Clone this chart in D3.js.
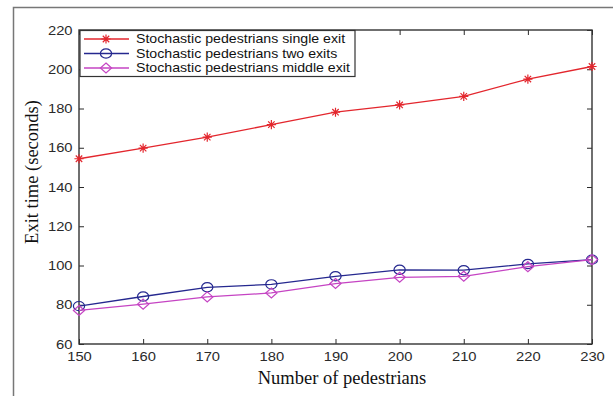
<!DOCTYPE html>
<html><head><meta charset="utf-8">
<script src="https://cdn.jsdelivr.net/npm/d3@7"></script>
<style>body{margin:0;background:#fff}svg{display:block}</style>
</head><body>
<svg id="c" width="613" height="396"></svg>
<script>
const pedestrians = [150,160,170,180,190,200,210,220,230];
const singleExit = [154.4,159.8,165.4,171.8,178.1,181.8,186.2,195.0,201.4];
const twoExits   = [79.3,84.2,88.9,90.4,94.5,97.8,97.6,100.8,103.0];
const middleExit = [77.1,80.3,84.0,86.0,90.8,94.0,94.5,99.4,103.0];
const xTicks = [150,160,170,180,190,200,210,220,230];
const yTicks = [60,80,100,120,140,160,180,200,220];
const seriesNames = ["Stochastic pedestrians single exit","Stochastic pedestrians two exits","Stochastic pedestrians middle exit"];

const svg = d3.select("#c");
const L=79,R=592,T=30,B=344;
const x = d3.scaleLinear().domain([150,230]).range([L,R]);
const y = d3.scaleLinear().domain([60,220]).range([B,T]);

// outer frame
svg.append("path").attr("d","M13.5,396 V7.5 H613").attr("fill","none").attr("stroke","#777").attr("stroke-width",1.5);

const tickCol="#2a2a2a";
const font="Liberation Sans, Arial, sans-serif";
const SX=1.18;
// axes
const gx = svg.append("g").attr("transform",`translate(0,${B})`).call(d3.axisBottom(x).tickValues(xTicks).tickSizeInner(-5).tickSizeOuter(0).tickPadding(8));
const gxt = svg.append("g").attr("transform",`translate(0,${T})`).call(d3.axisTop(x).tickValues(xTicks).tickSizeInner(-5).tickSizeOuter(0).tickFormat(""));
const gy = svg.append("g").attr("transform",`translate(${L},0)`).call(d3.axisLeft(y).tickValues(yTicks).tickSizeInner(-5).tickSizeOuter(0).tickPadding(5.5));
const gyr = svg.append("g").attr("transform",`translate(${R},0)`).call(d3.axisRight(y).tickValues(yTicks).tickSizeInner(-5).tickSizeOuter(0).tickFormat(""));
[gx,gxt,gy,gyr].forEach(g=>{
  g.select(".domain").remove();
  g.selectAll("line").attr("stroke",tickCol).attr("stroke-width",1);
  g.selectAll("text").attr("fill",tickCol).attr("transform",`scale(${SX},1)`).style("font-family",font).style("font-size","12.5px");
});
svg.append("rect").attr("x",L).attr("y",T).attr("width",R-L).attr("height",B-T).attr("fill","none").attr("stroke","#333").attr("stroke-width",1.4);

const colors=["#e3262d","#25288f","#c544c3"];
const datasets=[singleExit,twoExits,middleExit];
const line = d3.line().x((d,i)=>x(pedestrians[i])).y(d=>y(d));

function marker(g,type,cx,cy,col){
  if(type===0){
    const s=4.6;
    g.append("path").attr("d",`M${cx-s},${cy}H${cx+s}M${cx},${cy-s}V${cy+s}M${cx-s*0.7},${cy-s*0.7}L${cx+s*0.7},${cy+s*0.7}M${cx-s*0.7},${cy+s*0.7}L${cx+s*0.7},${cy-s*0.7}`)
     .attr("stroke",col).attr("stroke-width",1.2).attr("fill","none");
  } else if(type===1){
    g.append("ellipse").attr("cx",cx).attr("cy",cy).attr("rx",5.6).attr("ry",4.6).attr("fill","none").attr("stroke",col).attr("stroke-width",1.2);
  } else {
    const sx=5.6, sy=5;
    g.append("path").attr("d",`M${cx},${cy-sy}L${cx+sx},${cy}L${cx},${cy+sy}L${cx-sx},${cy}Z`).attr("fill","none").attr("stroke",col).attr("stroke-width",1.2);
  }
}

datasets.forEach((ds,k)=>{
  const g=svg.append("g");
  g.append("path").datum(ds).attr("d",line).attr("fill","none").attr("stroke",colors[k]).attr("stroke-width",1.3);
  ds.forEach((v,i)=>marker(g,k,x(pedestrians[i]),y(v),colors[k]));
});

// legend
const lg=svg.append("g");
lg.append("rect").attr("x",80).attr("y",30.5).attr("width",275).attr("height",46).attr("fill","#fff").attr("stroke","#333").attr("stroke-width",1.2);
seriesNames.forEach((n,k)=>{
  const yy=39+k*14.5;
  lg.append("line").attr("x1",84).attr("x2",129).attr("y1",yy).attr("y2",yy).attr("stroke",colors[k]).attr("stroke-width",1.3);
  marker(lg,k,106,yy,colors[k]);
  lg.append("text").attr("transform",`translate(136,${yy+4.3}) scale(${SX},1)`).text(n).attr("fill","#111").style("font-family",font).style("font-size","12px");
});

// titles
svg.append("text").attr("x",342).attr("y",384).attr("text-anchor","middle").text("Number of pedestrians")
  .style("font-family","Liberation Serif, Times New Roman, serif").style("font-size","18.5px").attr("fill","#111");
svg.append("text").attr("transform","translate(38,172) rotate(-90)").attr("text-anchor","middle").text("Exit time (seconds)")
  .style("font-family","Liberation Serif, Times New Roman, serif").style("font-size","18.5px").attr("fill","#111");
</script>
</body></html>
